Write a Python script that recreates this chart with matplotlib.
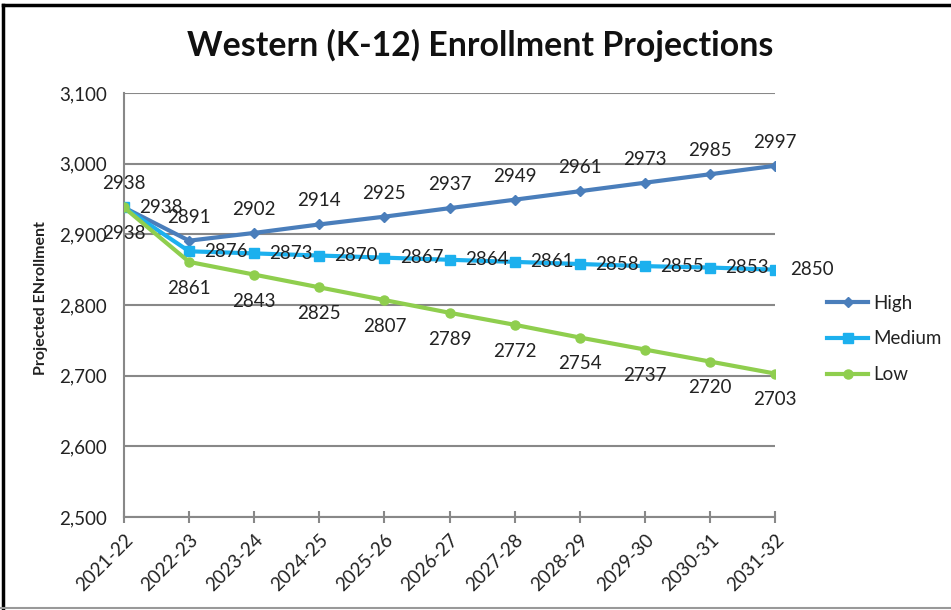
import matplotlib
matplotlib.use("Agg")
import matplotlib.pyplot as plt

plt.rcParams['font.family'] = ['Lato', 'DejaVu Sans']

years = ["2021-22", "2022-23", "2023-24", "2024-25", "2025-26", "2026-27",
         "2027-28", "2028-29", "2029-30", "2030-31", "2031-32"]
high = [2938, 2891, 2902, 2914, 2925, 2937, 2949, 2961, 2973, 2985, 2997]
medium = [2938, 2876, 2873, 2870, 2867, 2864, 2861, 2858, 2855, 2853, 2850]
low = [2938, 2861, 2843, 2825, 2807, 2789, 2772, 2754, 2737, 2720, 2703]
yticks = [2500, 2600, 2700, 2800, 2900, 3000, 3100]

c_high = "#4A7EBB"
c_med = "#1CB0EE"
c_low = "#8FCE4E"
txt = "#222222"

fig = plt.figure(figsize=(9.51, 6.10), dpi=100)
ax = fig.add_axes([124/951, 1-517/610, (775-124)/951, (517-93)/610])

x = list(range(len(years)))
ax.plot(x, high, color=c_high, lw=3.0, marker="D", ms=5, label="High", zorder=3)
ax.plot(x, medium, color=c_med, lw=3.0, marker="s", ms=6.5, label="Medium", zorder=3)
ax.plot(x, low, color=c_low, lw=3.0, marker="o", ms=6.5, label="Low", zorder=3)

fs = 13.5
for i, v in enumerate(high):
    ax.annotate(str(v), (i, v), xytext=(0, 17), textcoords="offset points",
                ha="center", va="center", fontsize=fs, color=txt, zorder=4)
for i, v in enumerate(medium):
    ax.annotate(str(v), (i, v), xytext=(11, 0), textcoords="offset points",
                ha="left", va="center", fontsize=fs, color=txt, zorder=4)
for i, v in enumerate(low):
    ax.annotate(str(v), (i, v), xytext=(0, -19), textcoords="offset points",
                ha="center", va="center", fontsize=fs, color=txt, zorder=4)

ax.set_xlim(0, len(years) - 1)
ax.set_ylim(2500, 3100)
ax.set_yticks(yticks)
ax.set_yticklabels([f"{t:,}" for t in yticks], fontsize=fs, color=txt)
ax.set_xticks(x)
ax.set_xticklabels(years, rotation=45, ha="right", rotation_mode="anchor",
                   fontsize=fs, color=txt)
ax.tick_params(axis="y", length=0, pad=12)
ax.tick_params(axis="x", direction="inout", length=8, width=1.5, color="#888888", pad=6)
ax.grid(axis="y", color="#888888", lw=1.5)
ax.set_axisbelow(True)
for s in ["top", "right"]:
    ax.spines[s].set_visible(False)
for s in ["left", "bottom"]:
    ax.spines[s].set_color("#888888")
    ax.spines[s].set_linewidth(1.5)

ax.set_ylabel("Projected ENrollment", fontsize=11.5, fontweight="bold", color=txt)
ax.yaxis.set_label_coords(-0.116, 0.516)

fig.text(0.505, 0.926, "Western (K-12) Enrollment Projections", ha="center", va="center",
         fontsize=24.4, fontweight="bold", color="#111111")

leg = fig.legend(loc="center left", bbox_to_anchor=(810/951, 1-339/610), frameon=False,
                 fontsize=fs, handlelength=2.2, labelspacing=1.0, handletextpad=0.25)
for t in leg.get_texts():
    t.set_color(txt)

# outer frame: black left and top, grey bottom
fig.add_artist(plt.Line2D([2.5/951, 2.5/951], [0, 1-5/610], transform=fig.transFigure,
                          color="black", lw=2.5))
fig.add_artist(plt.Line2D([2.5/951, 1], [1-5/610, 1-5/610], transform=fig.transFigure,
                          color="black", lw=2.5))
fig.add_artist(plt.Line2D([0, 1], [2.5/610, 2.5/610], transform=fig.transFigure,
                          color="#999999", lw=1.5))

fig.savefig("out.png", dpi=100)
